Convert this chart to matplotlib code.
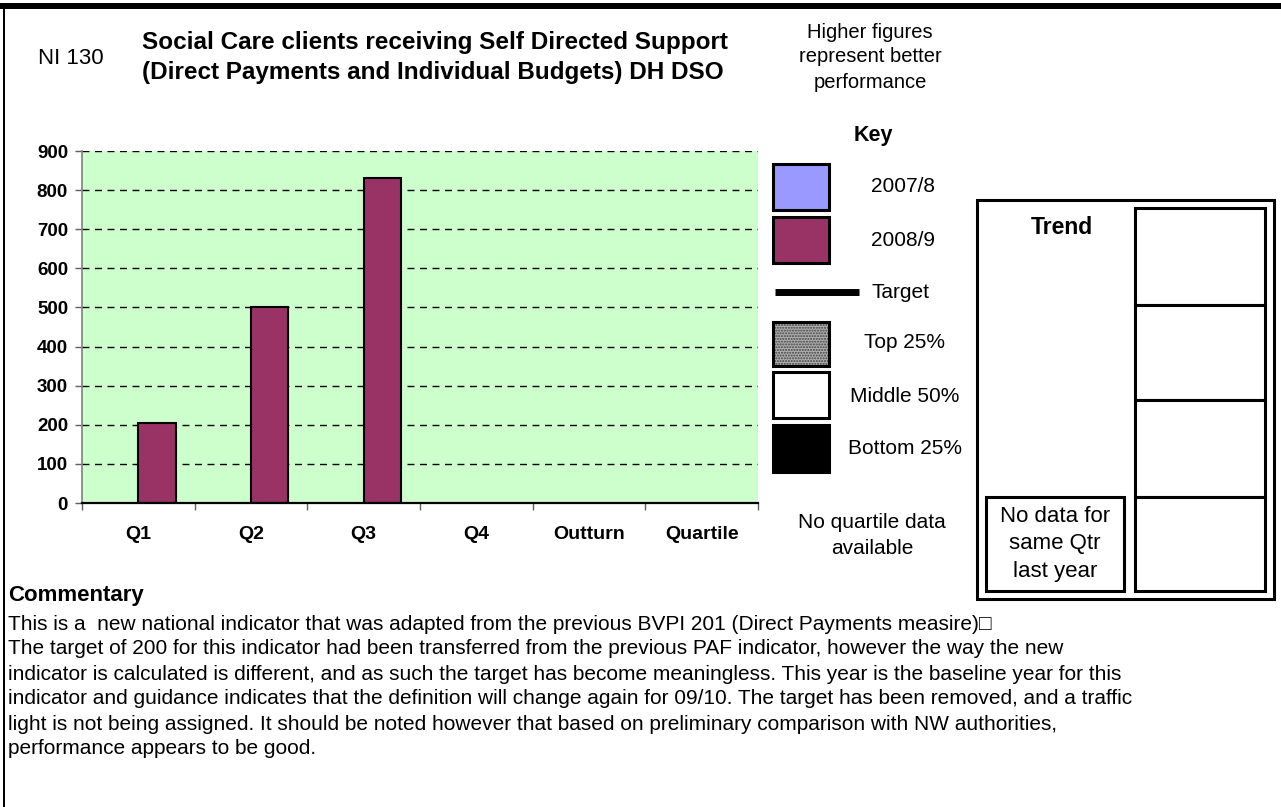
import matplotlib
matplotlib.use('Agg')
import matplotlib.pyplot as plt
from matplotlib.patches import Rectangle
import numpy as np

plt.rcParams['font.family'] = ['Liberation Sans', 'DejaVu Sans']

# Data
categories = ['Q1', 'Q2', 'Q3', 'Q4', 'Outturn', 'Quartile']
values_0708 = [np.nan, np.nan, np.nan, np.nan, np.nan, np.nan]
values_0809 = [204, 501, 832, np.nan, np.nan, np.nan]
y_ticks = [0, 100, 200, 300, 400, 500, 600, 700, 800, 900]

title_lines = ['Social Care clients receiving Self Directed Support',
               '(Direct Payments and Individual Budgets) DH DSO']
key_labels = ['2007/8', '2008/9', 'Target', 'Top 25%', 'Middle 50%', 'Bottom 25%']
commentary = [
    'This is a  new national indicator that was adapted from the previous BVPI 201 (Direct Payments measire)\u25a1',
    'The target of 200 for this indicator had been transferred from the previous PAF indicator, however the way the new',
    'indicator is calculated is different, and as such the target has become meaningless. This year is the baseline year for this',
    'indicator and guidance indicates that the definition will change again for 09/10. The target has been removed, and a traffic',
    'light is not being assigned. It should be noted however that based on preliminary comparison with NW authorities,',
    'performance appears to be good.',
]

W, H = 1281, 807
fig = plt.figure(figsize=(W / 100, H / 100), dpi=100)

# overlay in pixel coordinates for the page furniture
ov = fig.add_axes([0, 0, 1, 1])
ov.set_xlim(0, W)
ov.set_ylim(H, 0)
ov.axis('off')

# page frame: thick top rule and thin left rule
ov.add_patch(Rectangle((0, 3), W, 6, facecolor='black', edgecolor='none'))
ov.add_patch(Rectangle((3, 3), 2, H, facecolor='black', edgecolor='none'))

# header
ov.text(38, 58, 'NI 130', fontsize=16, va='center', ha='left')
ov.text(142, 42, title_lines[0], fontsize=17.5, fontweight='bold', va='center', ha='left')
ov.text(142, 73, title_lines[1], fontsize=17.5, fontweight='bold', va='center', ha='left')
for i, s in enumerate(['Higher figures', 'represent better', 'performance']):
    ov.text(870, 32 + i * 25, s, fontsize=14.5, va='center', ha='center')

# main chart
ax = fig.add_axes([82 / W, (H - 503) / H, (758 - 82) / W, (503 - 151) / H])
x = np.arange(len(categories))
bw = 0.33
ax.bar(x - bw / 2, values_0708, width=bw, color='#9999FF', edgecolor='black', linewidth=1.5, zorder=3)
ax.bar(x + bw / 2, values_0809, width=bw, color='#993366', edgecolor='black', linewidth=1.5, zorder=3)
ax.set_facecolor('#CCFFCC')
ax.set_xlim(-0.5, len(categories) - 0.5)
ax.set_ylim(0, 900)
ax.set_yticks(y_ticks)
ax.set_yticklabels([str(v) for v in y_ticks], fontsize=13.5, fontweight='bold')
ax.set_xticks(x)
ax.set_xticklabels(categories, fontsize=14, fontweight='bold')
ax.set_xticks(np.arange(len(categories) + 1) - 0.5, minor=True)
ax.tick_params(axis='x', which='major', length=0, pad=16.5)
ax.tick_params(axis='x', which='minor', length=5, width=1, color='#606060', direction='out')
ax.tick_params(axis='y', length=5, width=1, color='#606060', pad=5)
for v in y_ticks[1:]:
    ax.axhline(v, color='black', linestyle=(0, (5, 4)), linewidth=1, zorder=1)
ax.spines['top'].set_visible(False)
ax.spines['right'].set_visible(False)
ax.spines['left'].set_color('#808080')
ax.spines['left'].set_linewidth(1.2)
ax.spines['bottom'].set_color('black')
ax.spines['bottom'].set_linewidth(1.6)
ax.spines['bottom'].set_zorder(4)

# key
ov.text(873, 135, 'Key', fontsize=15.5, fontweight='bold', va='center', ha='center')
ov.add_patch(Rectangle((773, 164), 56, 46, facecolor='#9999FF', edgecolor='black', linewidth=2.2))
ov.add_patch(Rectangle((773, 217), 56, 46, facecolor='#993366', edgecolor='black', linewidth=2.2))
ov.plot([775, 859], [292, 292], color='black', linewidth=5, solid_capstyle='butt')
ov.add_patch(Rectangle((773, 322), 56, 44, facecolor='#b0b0b0', edgecolor='#404040',
                       hatch='......', linewidth=0))
ov.add_patch(Rectangle((773, 322), 56, 44, facecolor='none', edgecolor='black', linewidth=2.2))
ov.add_patch(Rectangle((773, 372), 56, 46, facecolor='white', edgecolor='black', linewidth=2.2))
ov.add_patch(Rectangle((773, 425), 56, 47, facecolor='black', edgecolor='black', linewidth=2.2))
ov.text(903, 187, key_labels[0], fontsize=15, va='center', ha='center')
ov.text(903, 240, key_labels[1], fontsize=15, va='center', ha='center')
ov.text(872, 293, key_labels[2], fontsize=15, va='center', ha='left')
ov.text(905, 343, key_labels[3], fontsize=15, va='center', ha='center')
ov.text(905, 396, key_labels[4], fontsize=15, va='center', ha='center')
ov.text(905, 448, key_labels[5], fontsize=15, va='center', ha='center')
ov.text(872, 523, 'No quartile data', fontsize=15, va='center', ha='center')
ov.text(872, 548, 'available', fontsize=15, va='center', ha='center')

# trend box
ov.add_patch(Rectangle((977, 200), 297, 399, facecolor='white', edgecolor='black', linewidth=2.2))
ov.text(1062, 227, 'Trend', fontsize=16.5, fontweight='bold', va='center', ha='center')
rows = [208, 305, 400, 497, 591]
for top, bot in zip(rows[:-1], rows[1:]):
    ov.add_patch(Rectangle((1135, top), 130, bot - top, facecolor='white', edgecolor='black', linewidth=2.2))
ov.add_patch(Rectangle((986, 497), 138, 94, facecolor='white', edgecolor='black', linewidth=2.2))
for i, s in enumerate(['No data for', 'same Qtr', 'last year']):
    ov.text(1055, 517 + i * 27, s, fontsize=16, va='center', ha='center')

# commentary
ov.text(8, 596, 'Commentary', fontsize=16, fontweight='bold', va='center', ha='left')
for i, line in enumerate(commentary):
    ov.text(8, 624 + i * 25, line, fontsize=15, va='center', ha='left')

fig.savefig('out.png', dpi=100)
